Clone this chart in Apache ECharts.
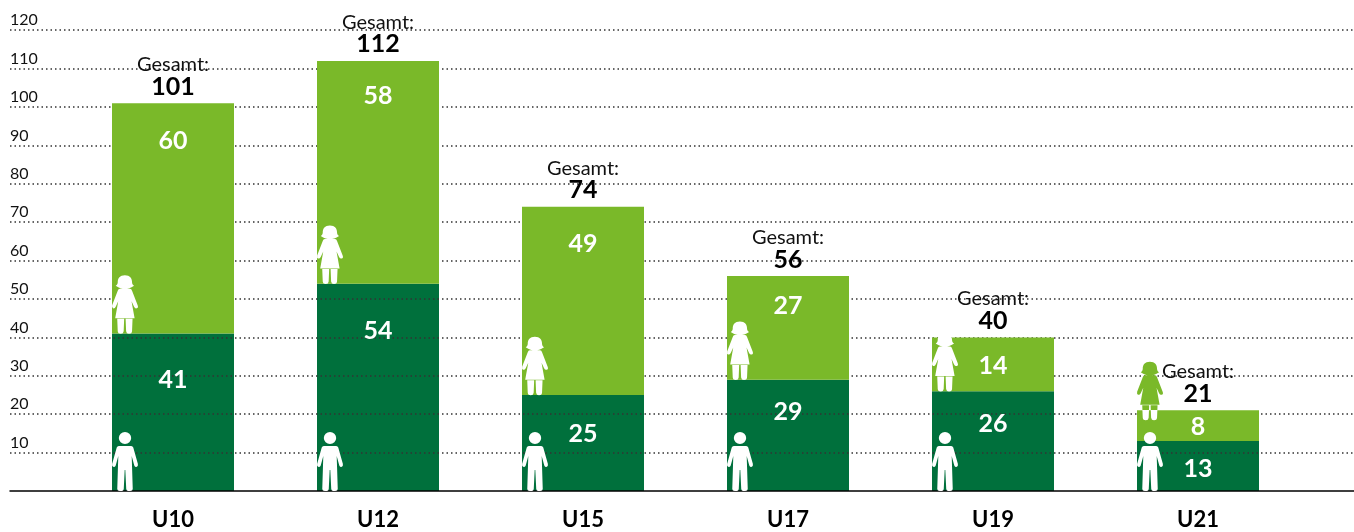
<!DOCTYPE html>
<html>
<head>
    <title>Gesamt</title>
    <script src="https://cdnjs.cloudflare.com/ajax/libs/echarts/6.0.0/echarts.min.js"></script>
    <style>
        html, body { margin: 0; background: #fff; }
        #chart { width: 1354px; height: 532px; }
    </style>
</head>
<body>
    <div id="chart"></div>
    <script>
        // Daten
        var categories = ['U10', 'U12', 'U15', 'U17', 'U19', 'U21'];
        var boys = [41, 54, 25, 29, 26, 13];
        var girls = [60, 58, 49, 27, 14, 8];
        var totals = [101, 112, 74, 56, 40, 21];
        var yTicks = [10, 20, 30, 40, 50, 60, 70, 80, 90, 100, 110, 120];

        // where the girl icon stands, on the y scale
        var girlFeet = [41, 54, 25, 29, 26, 18.5];
        // label distance from the top of each segment, px
        var girlLabelGap = [25, 23, 25, 17, 16, 4];
        var boyLabelGap = [33, 34, 26, 19, 20, 15];

        var LIGHT = '#7ab929';
        var DARK = '#00703c';

        var BOY = 'path://M13 0a6 6 0 1 0 0 12a6 6 0 1 0 0-12ZM7 14L19 14Q20.5 14 21 15.5L25.5 32Q26 34.5 24 35Q22.5 35 22 33.5L19.5 24L20.5 57Q20.5 59 18 59L16 59Q14.5 59 14.2 57L13.3 38L12.7 38L11.8 57Q11.5 59 10 59L8 59Q5.5 59 5.5 57L6.5 24L4 33.5Q3.5 35 2 35Q0 34.5 .5 32L5 15.5Q5.5 14 7 14Z';
        var GIRL = 'path://M13 0C18 0 20 3 20 7C20 9 21 10 22 10.5C18.5 13 16 13.5 13 13.5C10 13.5 7.5 13 4 10.5C5 10 6 9 6 7C6 3 8 0 13 0ZM8 13.5L18 13.5Q19.5 13.5 20 15.5L25.5 30Q26.5 32.5 24.5 33Q23 33.5 22 31.5L19.5 26L22.5 43L3.5 43L6.5 26L4 31.5Q3 33.5 1.5 33Q0 32.5 .5 30L6 15.5Q6.5 13.5 8 13.5ZM5.5 43.5L12.3 43.5L11.8 56Q11.5 58.5 9 58.5Q6.2 58.5 6 56ZM13.7 43.5L20.5 43.5L20 56Q19.8 58.5 17 58.5Q14.5 58.5 14.2 56Z';

        var chart = echarts.init(document.getElementById('chart'));
        var font = 'Lato, sans-serif';

        var numberLabel = { show: true, color: '#fff', fontSize: 25, fontWeight: 700, fontFamily: font };

        chart.setOption({
            animation: false,
            backgroundColor: '#fff',
            // grid 0 holds the full width rules, grid 1 holds the bars
            grid: [
                { left: 10, right: 0, top: 30.2, bottom: 41 },
                { left: 70.5, right: 53.5, top: 30.2, bottom: 41 }
            ],
            xAxis: [
                {
                    gridIndex: 0, type: 'category', data: categories, z: 6,
                    axisTick: { show: false }, axisLabel: { show: false },
                    axisLine: { lineStyle: { color: '#000', width: 1.5 } }
                },
                {
                    gridIndex: 1, type: 'category', data: categories,
                    axisTick: { show: false }, axisLine: { show: false },
                    axisLabel: { margin: 18, color: '#000', fontSize: 22, fontWeight: 700, fontFamily: font }
                }
            ],
            yAxis: [
                {
                    gridIndex: 0, type: 'value', min: 0, max: 120, interval: 10, z: 3,
                    axisLine: { show: false }, axisTick: { show: false },
                    splitLine: { showMinLine: false, lineStyle: { color: '#333', width: 1.5, type: [1.5, 3] } },
                    axisLabel: {
                        inside: true, margin: 0, align: 'left', verticalAlign: 'bottom', padding: [0, 0, 2, 0],
                        color: '#111', fontSize: 16, fontFamily: font,
                        formatter: function (v) { return yTicks.indexOf(v) >= 0 ? String(v) : ''; }
                    }
                },
                { gridIndex: 1, type: 'value', min: 0, max: 120, interval: 10, show: false }
            ],
            series: [
                {
                    name: 'Jungen', type: 'bar', stack: 'a', xAxisIndex: 1, yAxisIndex: 1, barWidth: 122, z: 2,
                    itemStyle: { color: DARK }, data: boys
                },
                {
                    name: 'Mädchen', type: 'bar', stack: 'a', xAxisIndex: 1, yAxisIndex: 1, barWidth: 122, z: 4,
                    itemStyle: { color: LIGHT },
                    data: girls.map(function (v, i) {
                        return { value: v, label: Object.assign({ position: 'insideTop', distance: girlLabelGap[i] }, numberLabel) };
                    })
                },
                {
                    // boys' numbers sit above the rules, so they cannot be labels of the bar itself
                    name: 'Jungen Zahl', type: 'scatter', xAxisIndex: 1, yAxisIndex: 1, z: 5,
                    symbolSize: 1, itemStyle: { color: 'transparent', opacity: 1 },
                    data: boys.map(function (v, i) {
                        return { value: v, label: Object.assign({ position: 'bottom', distance: boyLabelGap[i], formatter: '{c}' }, numberLabel) };
                    })
                },
                {
                    name: 'Gesamt', type: 'scatter', xAxisIndex: 1, yAxisIndex: 1, z: 5,
                    symbolSize: 1, itemStyle: { color: 'transparent', opacity: 1 }, data: totals,
                    label: {
                        show: true, position: 'top', distance: 5, align: 'center',
                        formatter: 'Gesamt:\n{t|{c}}',
                        color: '#111', fontSize: 20, lineHeight: 22, fontFamily: font,
                        rich: { t: { color: '#000', fontSize: 25, fontWeight: 700, lineHeight: 22, fontFamily: font } }
                    }
                },
                {
                    name: 'boy', type: 'scatter', xAxisIndex: 1, yAxisIndex: 1, z: 7,
                    symbol: BOY, symbolSize: [26, 59], symbolOffset: [-48, -29.5],
                    itemStyle: { color: '#fff', opacity: 1 },
                    data: categories.map(function () { return 0; })
                },
                {
                    name: 'girl', type: 'scatter', xAxisIndex: 1, yAxisIndex: 1, z: 7,
                    symbol: GIRL, symbolSize: [26, 58.5], symbolOffset: [-48, -29],
                    itemStyle: { color: '#fff', opacity: 1 },
                    data: girlFeet.map(function (v, i) {
                        // the U21 girl sticks out of the bar, green above it
                        if (v === boys[i]) return v;
                        return {
                            value: v,
                            itemStyle: {
                                color: new echarts.graphic.LinearGradient(0, 0, 0, 1, [
                                    { offset: 0, color: LIGHT }, { offset: 0.82, color: LIGHT },
                                    { offset: 0.82, color: '#fff' }, { offset: 1, color: '#fff' }
                                ])
                            }
                        };
                    })
                }
            ]
        });
    </script>
</body>
</html>
